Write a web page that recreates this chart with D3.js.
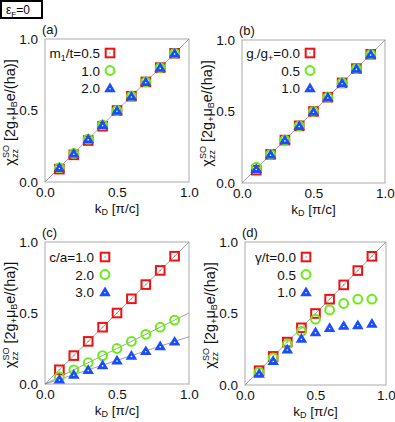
<!DOCTYPE html>
<html>
<head>
<meta charset="utf-8">
<script src="https://cdn.jsdelivr.net/npm/d3@7"></script>
<style>
  body { margin: 0; background: #fff; }
  svg { font-family: "Liberation Sans", Arial, sans-serif; }
</style>
</head>
<body>
<svg id="chart" width="395" height="422"></svg>
<script>
// shared k_D grid
const kD = [0.1, 0.2, 0.3, 0.4, 0.5, 0.6, 0.7, 0.8, 0.9];
const ticks = [0, 0.5, 1.0];

// (a) m1/t
const aLabels = ["0.5", "1.0", "2.0"];
const aS1 = [0.09, 0.19, 0.29, 0.39, 0.5, 0.6, 0.7, 0.8, 0.9];
const aS2 = [0.1, 0.2, 0.3, 0.4, 0.5, 0.6, 0.7, 0.8, 0.9];
const aS3 = [0.1, 0.2, 0.3, 0.4, 0.5, 0.6, 0.7, 0.8, 0.9];

// (b) g-/g+
const bLabels = ["0.0", "0.5", "1.0"];
const bS1 = [0.09, 0.2, 0.3, 0.4, 0.5, 0.6, 0.7, 0.8, 0.9];
const bS2 = [0.11, 0.2, 0.3, 0.4, 0.5, 0.6, 0.7, 0.8, 0.9];
const bS3 = [0.1, 0.2, 0.3, 0.4, 0.5, 0.6, 0.7, 0.8, 0.9];

// (c) c/a
const cLabels = ["1.0", "2.0", "3.0"];
const cS1 = [0.1, 0.2, 0.3, 0.4, 0.5, 0.6, 0.7, 0.8, 0.9];
const cS2 = [0.05, 0.1, 0.15, 0.2, 0.25, 0.3, 0.35, 0.4, 0.45];
const cS3 = [0.033, 0.067, 0.1, 0.133, 0.167, 0.2, 0.233, 0.267, 0.3];
const cSlopes = [1, 0.5, 0.333];

// (d) gamma/t
const dLabels = ["0.0", "0.5", "1.0"];
const dS1 = [0.1, 0.2, 0.3, 0.4, 0.5, 0.6, 0.7, 0.8, 0.9];
const dS2 = [0.09, 0.19, 0.285, 0.375, 0.46, 0.525, 0.57, 0.6, 0.6];
const dS3 = [0.08, 0.17, 0.25, 0.325, 0.37, 0.4, 0.415, 0.42, 0.43];

const colors = ["#ee1111", "#66ee11", "#1a4dff"];

const panels = [
  { tag: "(a)", box: [45, 189, 39, 182], name: ["m", "1", "/t="], labels: aLabels, series: [aS1, aS2, aS3], slopes: [1], leg: [100, 110, 53] },
  { tag: "(b)", box: [242, 385, 40, 183], name: ["g", "-", "/g", "+", "="], labels: bLabels, series: [bS1, bS2, bS3], slopes: [1], leg: [300, 310, 53] },
  { tag: "(c)", box: [45, 189, 242, 384], name: ["c/a="], labels: cLabels, series: [cS1, cS2, cS3], slopes: cSlopes, leg: [94, 105, 257] },
  { tag: "(d)", box: [245, 386, 242, 385], name: ["γ/t="], labels: dLabels, series: [dS1, dS2, dS3], slopes: [1], leg: [296, 306, 257] }
];

const svg = d3.select("#chart");

// epsilon_F box
svg.append("rect").attr("x", 1).attr("y", 1).attr("width", 41).attr("height", 17)
  .attr("fill", "none").attr("stroke", "#000").attr("stroke-width", 2);
const ef = svg.append("text").attr("x", 6).attr("y", 14).attr("font-size", 12);
ef.append("tspan").text("ε");
ef.append("tspan").attr("font-size", 8).attr("dy", 3).text("F");
ef.append("tspan").attr("dy", -3).text("=0");

function marker(g, type, color, x, y) {
  if (type === 0) {
    g.append("rect").attr("x", x - 4.3).attr("y", y - 4.3).attr("width", 8.6).attr("height", 8.6)
      .attr("fill", "none").attr("stroke", color).attr("stroke-width", 2);
    g.append("circle").attr("cx", x).attr("cy", y).attr("r", 0.8).attr("fill", "#999");
  } else if (type === 1) {
    g.append("circle").attr("cx", x).attr("cy", y).attr("r", 4.4)
      .attr("fill", "none").attr("stroke", color).attr("stroke-width", 2);
  } else {
    g.append("path").attr("d", `M${x},${y - 5.5}L${x + 5.8},${y + 4.2}L${x - 5.8},${y + 4.2}Z`)
      .attr("fill", color);
    g.append("circle").attr("cx", x).attr("cy", y + 0.8).attr("r", 0.8).attr("fill", "#fff");
  }
}

panels.forEach(p => {
  const [x0, x1, y0, y1] = p.box;
  const x = d3.scaleLinear().domain([0, 1]).range([x0, x1]);
  const y = d3.scaleLinear().domain([0, 1]).range([y1, y0]);
  const g = svg.append("g");

  g.append("rect").attr("x", x0).attr("y", y0).attr("width", x1 - x0).attr("height", y1 - y0)
    .attr("fill", "none").attr("stroke", "#aaa").attr("stroke-width", 1);

  const xa = g.append("g").attr("transform", `translate(0,${y1})`)
    .call(d3.axisBottom(x).tickValues(ticks).tickSize(0).tickPadding(5).tickFormat(d3.format(".1f")));
  const ya = g.append("g").attr("transform", `translate(${x0},0)`)
    .call(d3.axisLeft(y).tickValues(ticks).tickSize(0).tickPadding(7).tickFormat(d3.format(".1f")));
  [xa, ya].forEach(a => {
    a.select(".domain").remove();
    a.selectAll("text").attr("font-size", 13.5).attr("fill", "#111")
      .attr("font-family", "Liberation Sans, Arial, sans-serif");
  });

  // reference lines
  p.slopes.forEach(s => {
    g.append("line").attr("x1", x(0)).attr("y1", y(0)).attr("x2", x(1)).attr("y2", y(s))
      .attr("stroke", "#888").attr("stroke-width", 0.8);
  });

  // points
  p.series.forEach((vals, si) => {
    vals.forEach((v, i) => marker(g, si, colors[si], x(kD[i]), y(v)));
  });

  // legend
  const [tx, mx, ly] = p.leg;
  p.labels.forEach((lab, i) => {
    const t = g.append("text").attr("x", tx).attr("y", ly + i * 17.5 + 5)
      .attr("text-anchor", "end").attr("font-size", 13.5).attr("fill", "#111");
    if (i === 0) {
      p.name.forEach((part, k) => {
        const isSub = p.name.length > 1 && k % 2 === 1;
        const ts = t.append("tspan").text(part);
        if (isSub) ts.attr("font-size", 9).attr("dy", 3);
        else if (k > 0) ts.attr("dy", -3);
      });
      t.append("tspan").text(lab);
    } else {
      t.text(lab);
    }
    marker(g, i, colors[i], mx, ly + i * 17.5);
  });

  // panel tag
  g.append("text").attr("x", x0 - 3).attr("y", y0 - 5).attr("font-size", 13).attr("fill", "#111").text(p.tag);

  // x label
  const xl = g.append("text").attr("x", (x0 + x1) / 2).attr("y", y1 + 31)
    .attr("text-anchor", "middle").attr("font-size", 13.5).attr("fill", "#111");
  xl.append("tspan").text("k");
  xl.append("tspan").attr("font-size", 9).attr("dy", 2).text("D");
  xl.append("tspan").attr("dy", -2).text(" [π/c]");

  // y label
  const yl = g.append("text").attr("transform", `translate(${x0 - 30},${(y0 + y1) / 2 + 2}) rotate(-90)`)
    .attr("text-anchor", "middle").attr("font-size", 14.5).attr("fill", "#111");
  yl.append("tspan").text("χ");
  yl.append("tspan").attr("font-size", 9).attr("dy", -6).text("SO");
  yl.append("tspan").attr("font-size", 9).attr("dx", -13).attr("dy", 9).text("zz");
  yl.append("tspan").attr("dx", 4).attr("dy", -3).text(" [2g");
  yl.append("tspan").attr("font-size", 9).attr("dy", 2).text("+");
  yl.append("tspan").attr("dy", -2).text("μ");
  yl.append("tspan").attr("font-size", 9).attr("dy", 2).text("B");
  yl.append("tspan").attr("dy", -2).text("e/(ha)]");
});
</script>
</body>
</html>
